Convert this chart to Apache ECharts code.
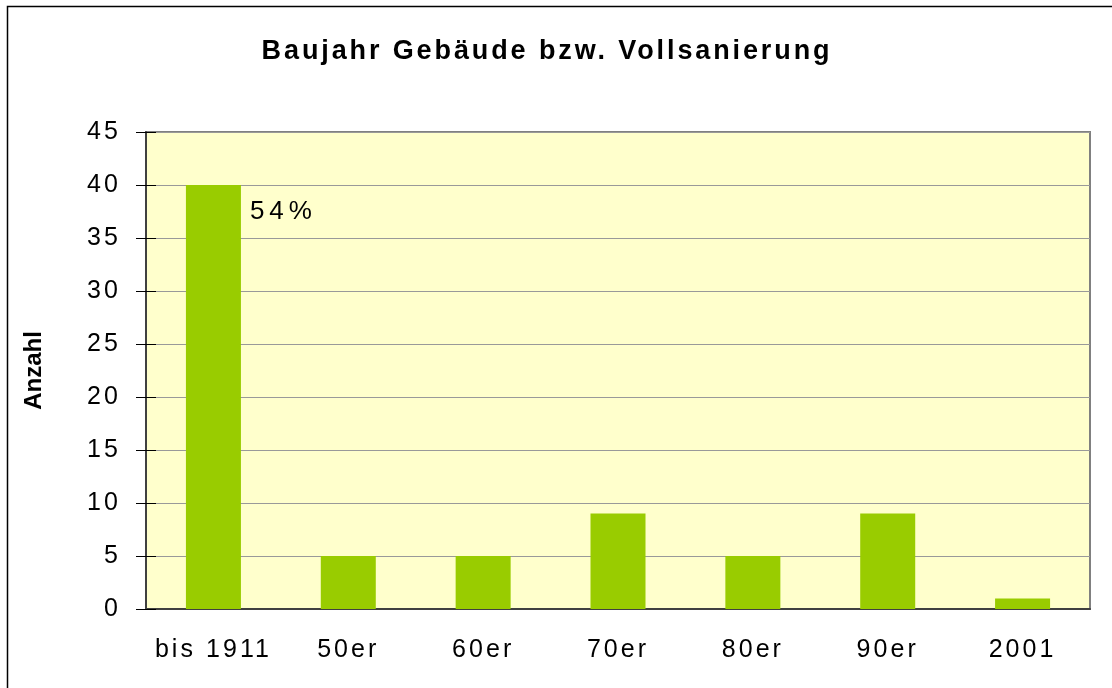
<!DOCTYPE html>
<html><head><meta charset="utf-8">
<script src="https://cdn.jsdelivr.net/npm/echarts@6/dist/echarts.min.js"></script>
<style>html,body{margin:0;padding:0;background:#fff}#c{width:1112px;height:688px}</style>
</head><body><div id="c"></div>
<script>
const categories = ['bis 1911', '50er', '60er', '70er', '80er', '90er', '2001'];
const values = [40, 5, 5, 9, 5, 9, 1];
const barLabels = ['54%', '', '', '', '', '', ''];
const yTicks = [0, 5, 10, 15, 20, 25, 30, 35, 40, 45];
const titleText = 'Baujahr Gebäude bzw. Vollsanierung';
const yName = 'Anzahl';

// Font families (distinct strings so that each text class gets its own letter spacing)
const FT = '"Liberation Sans Narrow", "Liberation Sans", Arial, sans-serif';
const FA = '"Liberation Sans", Arial, sans-serif';
const FL = 'Arial, "Liberation Sans", sans-serif';
const FN = '"Liberation Sans", "DejaVu Sans", sans-serif';

// letter spacing emulation (the reference text is spread out)
const spacing = {};
(function () {
  const m = document.createElement('canvas').getContext('2d');
  function fit(font, text, target) {
    m.font = font; m.letterSpacing = '0px';
    const w = m.measureText(text).width;
    return Math.max(0, (target - w) / (text.length - 1));
  }
  spacing.title = fit('bold 27px ' + FT, titleText, 568);
  spacing.axis = fit('normal 25px ' + FA, 'bis 1911', 114);
  spacing.lab = fit('normal 26px ' + FL, '54%', 62);
  const desc = Object.getOwnPropertyDescriptor(CanvasRenderingContext2D.prototype, 'font');
  Object.defineProperty(CanvasRenderingContext2D.prototype, 'font', {
    configurable: true,
    get() { return desc.get.call(this); },
    set(v) {
      desc.set.call(this, v);
      let s = 0;
      if (typeof v === 'string') {
        if (v.indexOf('Narrow') >= 0) s = spacing.title;
        else if (v.indexOf('"Liberation Sans", Arial') >= 0) s = spacing.axis;
        else if (v.indexOf('Arial, "Liberation Sans"') >= 0) s = spacing.lab;
      }
      try { this.letterSpacing = s.toFixed(2) + 'px'; } catch (e) {}
    }
  });
})();

const chart = echarts.init(document.getElementById('c'), null, {renderer: 'canvas'});
chart.setOption({
  animation: false,
  backgroundColor: '#fff',
  title: {
    text: titleText, left: 542, top: 32, textAlign: 'center',
    textStyle: {fontFamily: FT, fontSize: 27, fontWeight: 'bold', color: '#000'}
  },
  graphic: [{
    type: 'rect', shape: {x: 7.5, y: 6.5, width: 1200, height: 800},
    style: {fill: 'none', stroke: '#000', lineWidth: 1.5}, silent: true, z: -1
  }],
  grid: {left: 146, right: 22, top: 132, bottom: 79, show: true,
    backgroundColor: '#FFFFCC', borderColor: '#808080', borderWidth: 2},
  xAxis: {
    type: 'category', data: categories,
    axisLine: {lineStyle: {color: '#404040', width: 2}},
    axisTick: {show: false},
    axisLabel: {interval: 0, hideOverlap: false, fontFamily: FA, fontSize: 25, color: '#000', margin: 27}
  },
  yAxis: [{
    type: 'value', min: yTicks[0], max: yTicks[yTicks.length - 1], interval: 5,
    name: yName, nameLocation: 'middle', nameGap: 100, nameRotate: 90,
    nameTextStyle: {fontFamily: FN, fontSize: 24, fontWeight: 'bold', color: '#000'},
    axisLine: {show: true, lineStyle: {color: '#404040', width: 2}},
    axisTick: {show: true, length: 10, lineStyle: {color: '#000', width: 1}},
    axisLabel: {fontFamily: FA, fontSize: 25, color: '#000', margin: 25},
    splitLine: {show: true, lineStyle: {color: '#999999', width: 1}}
  }, {
    type: 'value', position: 'left', min: yTicks[0], max: yTicks[yTicks.length - 1], interval: 5,
    axisLine: {show: false},
    axisTick: {show: true, inside: true, length: 10, lineStyle: {color: '#000', width: 1}},
    axisLabel: {show: false}, splitLine: {show: false}
  }],
  series: [{
    type: 'bar', data: values.map((v, i) => ({value: v, label: {show: barLabels[i] !== '', formatter: barLabels[i]}})),
    barWidth: 55, itemStyle: {color: '#99CC00'},
    label: {position: [64, 27], verticalAlign: 'middle', align: 'left',
      fontFamily: FL, fontSize: 26, color: '#000'}
  }]
});
</script></body></html>
